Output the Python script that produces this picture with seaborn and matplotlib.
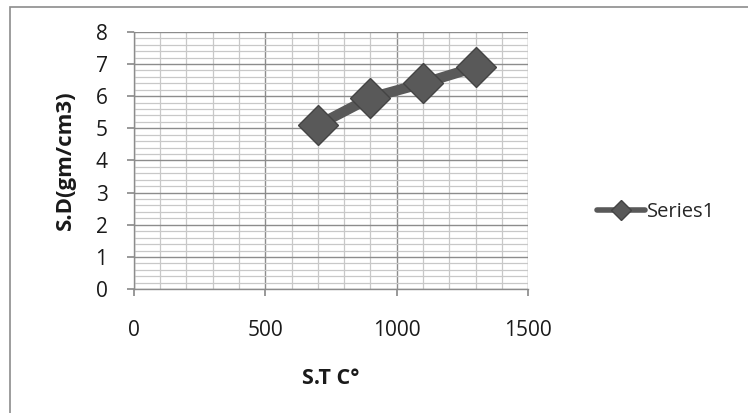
import matplotlib
matplotlib.use("Agg")
import matplotlib.pyplot as plt
import seaborn as sns
import pandas as pd
from matplotlib.ticker import MultipleLocator
from matplotlib.patches import Rectangle

temps = [700, 900, 1100, 1300]
density = [5.1, 5.95, 6.4, 6.9]
series_name = "Series1"

df = pd.DataFrame({"S.T C°": temps, "S.D(gm/cm3)": density, "series": series_name})

sns.set_theme(style="white")
plt.rcParams['font.family'] = ['Open Sans', 'DejaVu Sans']

fig = plt.figure(figsize=(7.48, 4.13), dpi=100)
ax = fig.add_axes([0.179, 0.300, 0.527, 0.623])

sns.lineplot(data=df, x="S.T C°", y="S.D(gm/cm3)", hue="series", palette=["#595959"],
             marker="D", markersize=20, linewidth=7.5, markeredgecolor="#444444",
             markeredgewidth=1, ax=ax, legend=True)

ax.set_xlim(0, 1500)
ax.set_ylim(0, 8)
ax.xaxis.set_major_locator(MultipleLocator(500))
ax.xaxis.set_minor_locator(MultipleLocator(100))
ax.yaxis.set_major_locator(MultipleLocator(1))
ax.yaxis.set_minor_locator(MultipleLocator(0.2))
ax.grid(which="major", color="#8c8c8c", linewidth=1.0)
ax.grid(which="minor", color="#c8c8c8", linewidth=0.9)
ax.set_axisbelow(True)

for s in ["top", "right"]:
    ax.spines[s].set_visible(False)
for s in ["left", "bottom"]:
    ax.spines[s].set_color("#8c8c8c")
    ax.spines[s].set_linewidth(1.0)

ax.tick_params(axis="x", which="major", direction="out", length=5, color="#8c8c8c",
               bottom=True, pad=17, labelsize=15, labelcolor="#1a1a1a")
ax.tick_params(axis="y", which="major", direction="out", length=5, color="#8c8c8c",
               left=True, pad=14, labelsize=15, labelcolor="#1a1a1a")
ax.tick_params(which="minor", length=0)

ax.set_xlabel("S.T C°", fontsize=15.5, fontweight="bold", labelpad=20, color="#1a1a1a")
ax.set_ylabel("S.D(gm/cm3)", fontsize=16, fontweight="bold", labelpad=14, color="#1a1a1a")

leg = ax.legend(loc="center left", bbox_to_anchor=(1.175, 0.30), frameon=False,
                fontsize=14.5, handlelength=2.4, handletextpad=0.1, markerscale=0.5,
                borderaxespad=0, borderpad=0)
for h in leg.legend_handles:
    h.set_linewidth(4)

fig.patches.append(Rectangle((0.013, -0.01), 1.0, 0.994, transform=fig.transFigure,
                             fill=False, edgecolor="#8c8c8c", linewidth=1.2))

fig.savefig("out.png", dpi=100)
